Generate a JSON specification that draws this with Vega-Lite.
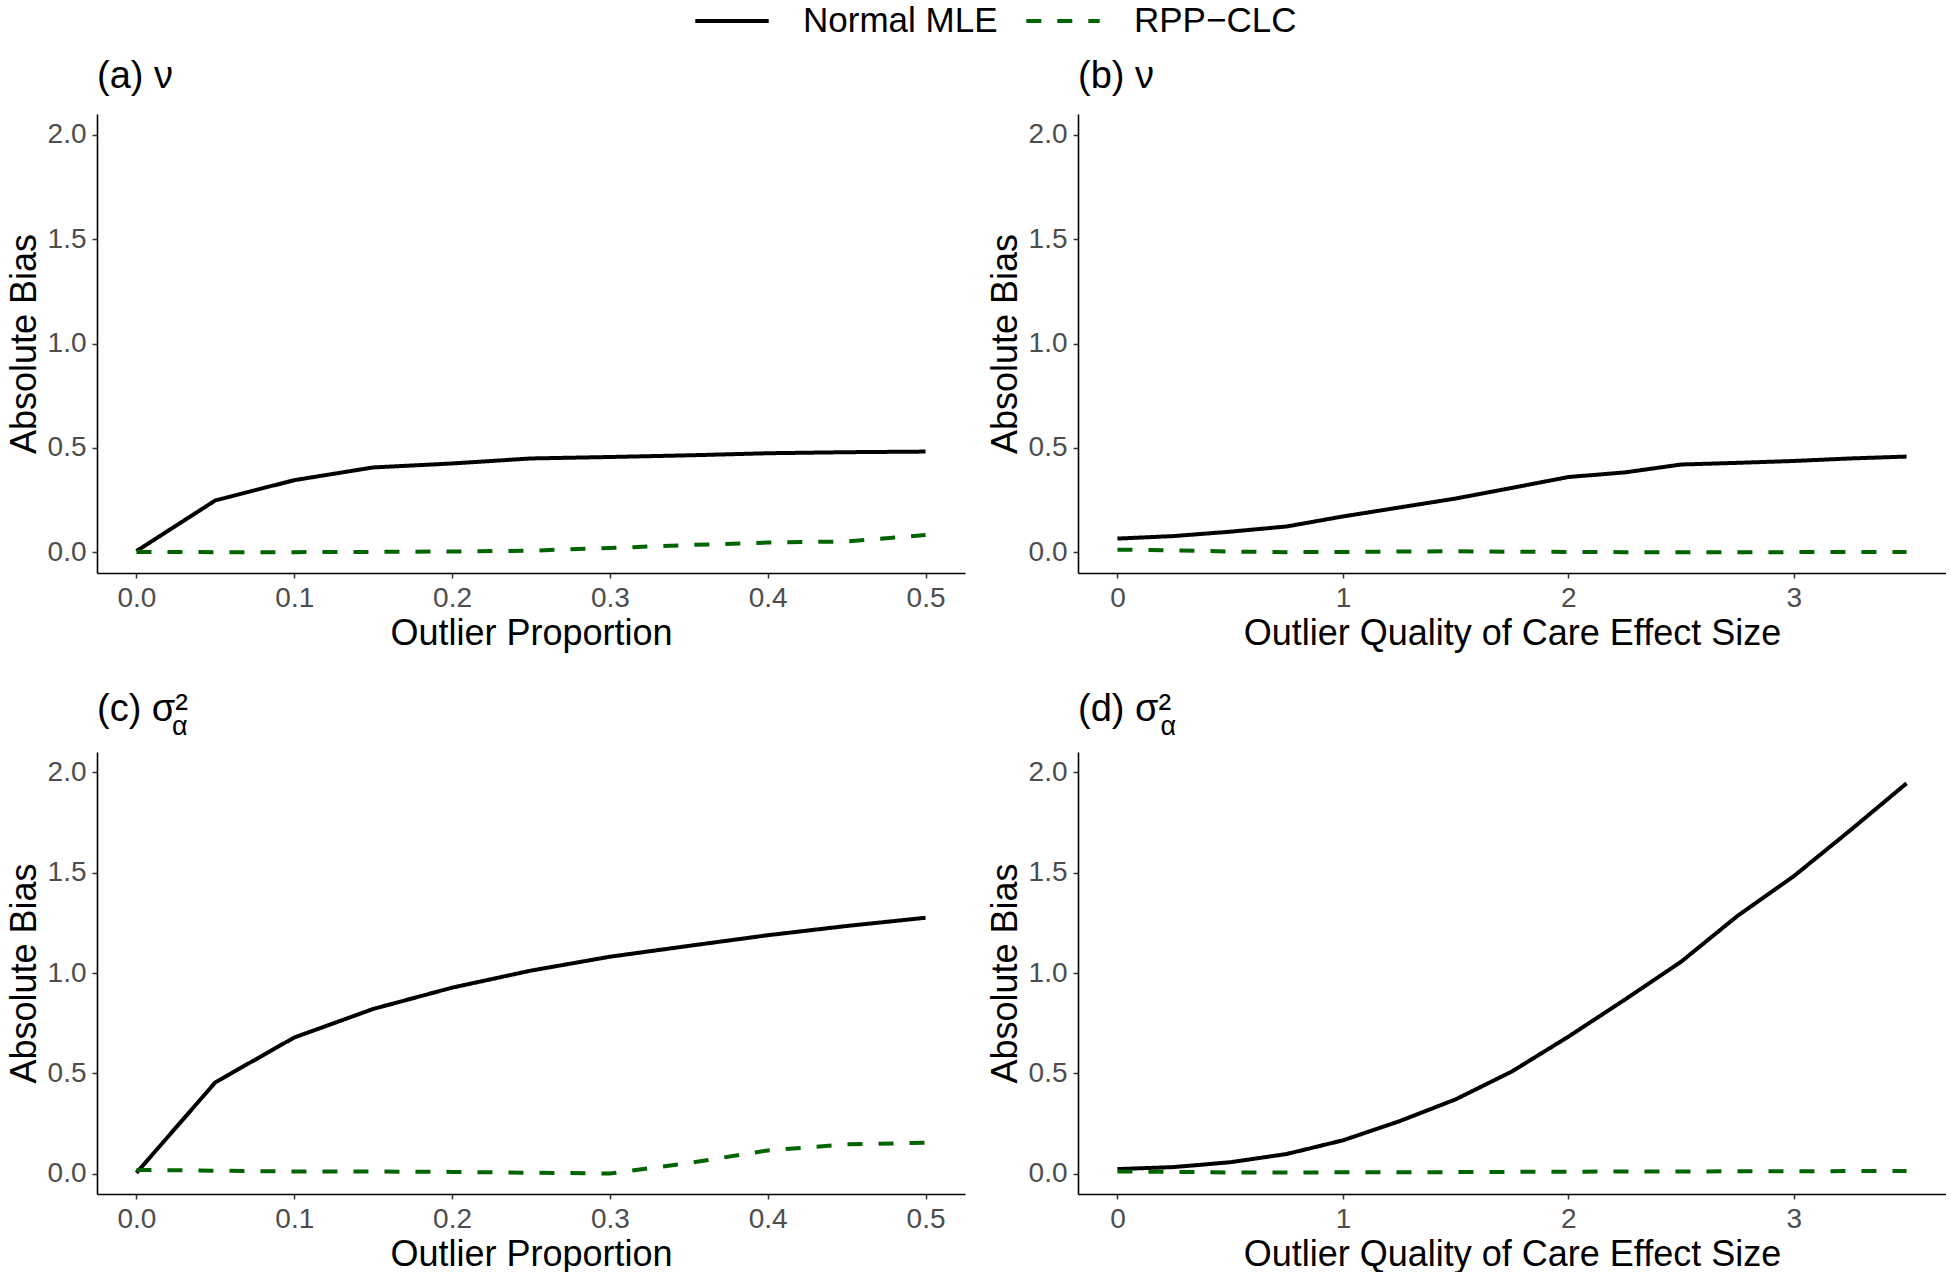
{
  "$schema": "https://vega.github.io/schema/vega-lite/v6.json",
  "background": "white",
  "padding": {"top": -18, "left": 6, "right": 0, "bottom": 0},
  "datasets": {
    "bias": [
      {"panel": "a", "x": 0.00, "method": "Normal MLE", "y": 0.005},
      {"panel": "a", "x": 0.05, "method": "Normal MLE", "y": 0.248},
      {"panel": "a", "x": 0.10, "method": "Normal MLE", "y": 0.345},
      {"panel": "a", "x": 0.15, "method": "Normal MLE", "y": 0.406},
      {"panel": "a", "x": 0.20, "method": "Normal MLE", "y": 0.425},
      {"panel": "a", "x": 0.25, "method": "Normal MLE", "y": 0.449},
      {"panel": "a", "x": 0.30, "method": "Normal MLE", "y": 0.456},
      {"panel": "a", "x": 0.35, "method": "Normal MLE", "y": 0.464},
      {"panel": "a", "x": 0.40, "method": "Normal MLE", "y": 0.474},
      {"panel": "a", "x": 0.45, "method": "Normal MLE", "y": 0.479},
      {"panel": "a", "x": 0.50, "method": "Normal MLE", "y": 0.482},
      {"panel": "a", "x": 0.00, "method": "RPP−CLC", "y": 0.001},
      {"panel": "a", "x": 0.05, "method": "RPP−CLC", "y": 0.000},
      {"panel": "a", "x": 0.10, "method": "RPP−CLC", "y": 0.000},
      {"panel": "a", "x": 0.15, "method": "RPP−CLC", "y": 0.001},
      {"panel": "a", "x": 0.20, "method": "RPP−CLC", "y": 0.003},
      {"panel": "a", "x": 0.25, "method": "RPP−CLC", "y": 0.007},
      {"panel": "a", "x": 0.30, "method": "RPP−CLC", "y": 0.020},
      {"panel": "a", "x": 0.35, "method": "RPP−CLC", "y": 0.034},
      {"panel": "a", "x": 0.40, "method": "RPP−CLC", "y": 0.046},
      {"panel": "a", "x": 0.45, "method": "RPP−CLC", "y": 0.051},
      {"panel": "a", "x": 0.50, "method": "RPP−CLC", "y": 0.082},
      {"panel": "b", "x": 0.00, "method": "Normal MLE", "y": 0.065},
      {"panel": "b", "x": 0.25, "method": "Normal MLE", "y": 0.077},
      {"panel": "b", "x": 0.50, "method": "Normal MLE", "y": 0.098},
      {"panel": "b", "x": 0.75, "method": "Normal MLE", "y": 0.123},
      {"panel": "b", "x": 1.00, "method": "Normal MLE", "y": 0.171},
      {"panel": "b", "x": 1.25, "method": "Normal MLE", "y": 0.214},
      {"panel": "b", "x": 1.50, "method": "Normal MLE", "y": 0.257},
      {"panel": "b", "x": 1.75, "method": "Normal MLE", "y": 0.308},
      {"panel": "b", "x": 2.00, "method": "Normal MLE", "y": 0.360},
      {"panel": "b", "x": 2.25, "method": "Normal MLE", "y": 0.382},
      {"panel": "b", "x": 2.50, "method": "Normal MLE", "y": 0.420},
      {"panel": "b", "x": 2.75, "method": "Normal MLE", "y": 0.428},
      {"panel": "b", "x": 3.00, "method": "Normal MLE", "y": 0.437},
      {"panel": "b", "x": 3.25, "method": "Normal MLE", "y": 0.449},
      {"panel": "b", "x": 3.50, "method": "Normal MLE", "y": 0.458},
      {"panel": "b", "x": 0.00, "method": "RPP−CLC", "y": 0.012},
      {"panel": "b", "x": 0.25, "method": "RPP−CLC", "y": 0.009},
      {"panel": "b", "x": 0.50, "method": "RPP−CLC", "y": 0.003},
      {"panel": "b", "x": 0.75, "method": "RPP−CLC", "y": 0.000},
      {"panel": "b", "x": 1.00, "method": "RPP−CLC", "y": 0.001},
      {"panel": "b", "x": 1.25, "method": "RPP−CLC", "y": 0.003},
      {"panel": "b", "x": 1.50, "method": "RPP−CLC", "y": 0.004},
      {"panel": "b", "x": 1.75, "method": "RPP−CLC", "y": 0.002},
      {"panel": "b", "x": 2.00, "method": "RPP−CLC", "y": 0.001},
      {"panel": "b", "x": 2.25, "method": "RPP−CLC", "y": 0.000},
      {"panel": "b", "x": 2.50, "method": "RPP−CLC", "y": 0.000},
      {"panel": "b", "x": 2.75, "method": "RPP−CLC", "y": 0.000},
      {"panel": "b", "x": 3.00, "method": "RPP−CLC", "y": 0.000},
      {"panel": "b", "x": 3.25, "method": "RPP−CLC", "y": 0.001},
      {"panel": "b", "x": 3.50, "method": "RPP−CLC", "y": 0.001},
      {"panel": "c", "x": 0.00, "method": "Normal MLE", "y": 0.005},
      {"panel": "c", "x": 0.05, "method": "Normal MLE", "y": 0.456},
      {"panel": "c", "x": 0.10, "method": "Normal MLE", "y": 0.679},
      {"panel": "c", "x": 0.15, "method": "Normal MLE", "y": 0.821},
      {"panel": "c", "x": 0.20, "method": "Normal MLE", "y": 0.927},
      {"panel": "c", "x": 0.25, "method": "Normal MLE", "y": 1.012},
      {"panel": "c", "x": 0.30, "method": "Normal MLE", "y": 1.081},
      {"panel": "c", "x": 0.35, "method": "Normal MLE", "y": 1.135},
      {"panel": "c", "x": 0.40, "method": "Normal MLE", "y": 1.188},
      {"panel": "c", "x": 0.45, "method": "Normal MLE", "y": 1.234},
      {"panel": "c", "x": 0.50, "method": "Normal MLE", "y": 1.275},
      {"panel": "c", "x": 0.00, "method": "RPP−CLC", "y": 0.020},
      {"panel": "c", "x": 0.05, "method": "RPP−CLC", "y": 0.016},
      {"panel": "c", "x": 0.10, "method": "RPP−CLC", "y": 0.012},
      {"panel": "c", "x": 0.15, "method": "RPP−CLC", "y": 0.012},
      {"panel": "c", "x": 0.20, "method": "RPP−CLC", "y": 0.010},
      {"panel": "c", "x": 0.25, "method": "RPP−CLC", "y": 0.006},
      {"panel": "c", "x": 0.30, "method": "RPP−CLC", "y": 0.002},
      {"panel": "c", "x": 0.35, "method": "RPP−CLC", "y": 0.054},
      {"panel": "c", "x": 0.40, "method": "RPP−CLC", "y": 0.117},
      {"panel": "c", "x": 0.45, "method": "RPP−CLC", "y": 0.147},
      {"panel": "c", "x": 0.50, "method": "RPP−CLC", "y": 0.155},
      {"panel": "d", "x": 0.00, "method": "Normal MLE", "y": 0.024},
      {"panel": "d", "x": 0.25, "method": "Normal MLE", "y": 0.034},
      {"panel": "d", "x": 0.50, "method": "Normal MLE", "y": 0.058},
      {"panel": "d", "x": 0.75, "method": "Normal MLE", "y": 0.099},
      {"panel": "d", "x": 1.00, "method": "Normal MLE", "y": 0.167},
      {"panel": "d", "x": 1.25, "method": "Normal MLE", "y": 0.262},
      {"panel": "d", "x": 1.50, "method": "Normal MLE", "y": 0.371},
      {"panel": "d", "x": 1.75, "method": "Normal MLE", "y": 0.510},
      {"panel": "d", "x": 2.00, "method": "Normal MLE", "y": 0.683},
      {"panel": "d", "x": 2.25, "method": "Normal MLE", "y": 0.867},
      {"panel": "d", "x": 2.50, "method": "Normal MLE", "y": 1.056},
      {"panel": "d", "x": 2.75, "method": "Normal MLE", "y": 1.284},
      {"panel": "d", "x": 3.00, "method": "Normal MLE", "y": 1.482},
      {"panel": "d", "x": 3.25, "method": "Normal MLE", "y": 1.710},
      {"panel": "d", "x": 3.50, "method": "Normal MLE", "y": 1.944},
      {"panel": "d", "x": 0.00, "method": "RPP−CLC", "y": 0.012},
      {"panel": "d", "x": 0.25, "method": "RPP−CLC", "y": 0.010},
      {"panel": "d", "x": 0.50, "method": "RPP−CLC", "y": 0.007},
      {"panel": "d", "x": 0.75, "method": "RPP−CLC", "y": 0.007},
      {"panel": "d", "x": 1.00, "method": "RPP−CLC", "y": 0.008},
      {"panel": "d", "x": 1.25, "method": "RPP−CLC", "y": 0.008},
      {"panel": "d", "x": 1.50, "method": "RPP−CLC", "y": 0.009},
      {"panel": "d", "x": 1.75, "method": "RPP−CLC", "y": 0.010},
      {"panel": "d", "x": 2.00, "method": "RPP−CLC", "y": 0.011},
      {"panel": "d", "x": 2.25, "method": "RPP−CLC", "y": 0.012},
      {"panel": "d", "x": 2.50, "method": "RPP−CLC", "y": 0.012},
      {"panel": "d", "x": 2.75, "method": "RPP−CLC", "y": 0.013},
      {"panel": "d", "x": 3.00, "method": "RPP−CLC", "y": 0.013},
      {"panel": "d", "x": 3.25, "method": "RPP−CLC", "y": 0.014},
      {"panel": "d", "x": 3.50, "method": "RPP−CLC", "y": 0.014}
    ]
  },
  "data": {"name": "bias"},
  "spacing": 40,
  "vconcat": [
    {
      "spacing": 22,
      "hconcat": [
        {
          "width": 868, "height": 459,
          "title": {"text": "(a) ν"},
          "transform": [{"filter": "datum.panel === 'a'"}],
          "mark": {"type": "line", "strokeWidth": 4},
          "encoding": {
            "x": {"field": "x", "type": "quantitative", "title": "Outlier Proportion",
                  "scale": {"domain": [-0.025, 0.525], "nice": false, "zero": false},
                  "axis": {"values": [0, 0.1, 0.2, 0.3, 0.4, 0.5], "format": ".1f"}},
            "y": {"field": "y", "type": "quantitative", "title": "Absolute Bias",
                  "scale": {"domain": [-0.1, 2.1], "nice": false, "zero": false},
                  "axis": {"values": [0, 0.5, 1, 1.5, 2], "format": ".1f"}},
            "color": {"field": "method", "type": "nominal", "title": null,
                      "scale": {"domain": ["Normal MLE", "RPP−CLC"], "range": ["#000000", "#006400"]}},
            "strokeDash": {"field": "method", "type": "nominal", "title": null,
                           "scale": {"domain": ["Normal MLE", "RPP−CLC"], "range": [[1, 0], [15, 16]]}},
            "detail": {"field": "method"}
          }
        },
        {
          "width": 868, "height": 459,
          "title": {"text": "(b) ν"},
          "transform": [{"filter": "datum.panel === 'b'"}],
          "mark": {"type": "line", "strokeWidth": 4},
          "encoding": {
            "x": {"field": "x", "type": "quantitative", "title": "Outlier Quality of Care Effect Size",
                  "scale": {"domain": [-0.175, 3.675], "nice": false, "zero": false},
                  "axis": {"values": [0, 1, 2, 3], "format": "d"}},
            "y": {"field": "y", "type": "quantitative", "title": "Absolute Bias",
                  "scale": {"domain": [-0.1, 2.1], "nice": false, "zero": false},
                  "axis": {"values": [0, 0.5, 1, 1.5, 2], "format": ".1f"}},
            "color": {"field": "method", "type": "nominal", "title": null,
                      "scale": {"domain": ["Normal MLE", "RPP−CLC"], "range": ["#000000", "#006400"]}},
            "strokeDash": {"field": "method", "type": "nominal", "title": null,
                           "scale": {"domain": ["Normal MLE", "RPP−CLC"], "range": [[1, 0], [15, 16]]}},
            "detail": {"field": "method"}
          }
        }
      ]
    },
    {
      "spacing": 22,
      "hconcat": [
        {
          "width": 868, "height": 442,
          "title": {"text": "(c) σ²", "subtitle": "\u200b\u00a0\u00a0\u00a0\u00a0\u00a0\u00a0\u00a0\u00a0\u00a0\u00a0α", "offset": 12},
          "transform": [{"filter": "datum.panel === 'c'"}],
          "mark": {"type": "line", "strokeWidth": 4},
          "encoding": {
            "x": {"field": "x", "type": "quantitative", "title": "Outlier Proportion",
                  "scale": {"domain": [-0.025, 0.525], "nice": false, "zero": false},
                  "axis": {"values": [0, 0.1, 0.2, 0.3, 0.4, 0.5], "format": ".1f"}},
            "y": {"field": "y", "type": "quantitative", "title": "Absolute Bias",
                  "scale": {"domain": [-0.1, 2.1], "nice": false, "zero": false},
                  "axis": {"values": [0, 0.5, 1, 1.5, 2], "format": ".1f"}},
            "color": {"field": "method", "type": "nominal", "title": null,
                      "scale": {"domain": ["Normal MLE", "RPP−CLC"], "range": ["#000000", "#006400"]}},
            "strokeDash": {"field": "method", "type": "nominal", "title": null,
                           "scale": {"domain": ["Normal MLE", "RPP−CLC"], "range": [[1, 0], [15, 16]]}},
            "detail": {"field": "method"}
          }
        },
        {
          "width": 868, "height": 442,
          "title": {"text": "(d) σ²", "subtitle": "\u200b\u00a0\u00a0\u00a0\u00a0\u00a0\u00a0\u00a0\u00a0\u00a0\u00a0\u00a0α", "offset": 12},
          "transform": [{"filter": "datum.panel === 'd'"}],
          "mark": {"type": "line", "strokeWidth": 4},
          "encoding": {
            "x": {"field": "x", "type": "quantitative", "title": "Outlier Quality of Care Effect Size",
                  "scale": {"domain": [-0.175, 3.675], "nice": false, "zero": false},
                  "axis": {"values": [0, 1, 2, 3], "format": "d"}},
            "y": {"field": "y", "type": "quantitative", "title": "Absolute Bias",
                  "scale": {"domain": [-0.1, 2.1], "nice": false, "zero": false},
                  "axis": {"values": [0, 0.5, 1, 1.5, 2], "format": ".1f"}},
            "color": {"field": "method", "type": "nominal", "title": null,
                      "scale": {"domain": ["Normal MLE", "RPP−CLC"], "range": ["#000000", "#006400"]}},
            "strokeDash": {"field": "method", "type": "nominal", "title": null,
                           "scale": {"domain": ["Normal MLE", "RPP−CLC"], "range": [[1, 0], [15, 16]]}},
            "detail": {"field": "method"}
          }
        }
      ]
    }
  ],
  "resolve": {"scale": {"color": "shared", "strokeDash": "shared"}},
  "config": {
    "font": "Liberation Sans",
    "view": {"stroke": null},
    "axis": {
      "grid": false,
      "domainColor": "#000000",
      "domainWidth": 1.6,
      "tickColor": "#333333",
      "tickWidth": 1.5,
      "tickSize": 5,
      "labelPadding": 6,
      "labelColor": "#4D4D4D",
      "labelFont": "Liberation Sans",
      "labelFontSize": 28,
      "titleFont": "Liberation Sans",
      "titleFontSize": 36,
      "titleFontWeight": "normal",
      "titleColor": "#000000",
      "titlePadding": 4
    },
    "title": {
      "font": "Liberation Sans",
      "fontSize": 38,
      "fontWeight": "normal",
      "color": "#000000",
      "anchor": "start",
      "frame": "group",
      "offset": 18,
      "subtitleFont": "Liberation Sans",
      "subtitleFontSize": 27,
      "subtitleColor": "#000000",
      "subtitlePadding": -15
    },
    "legend": {
      "orient": "none",
      "legendX": 596,
      "legendY": -132,
      "direction": "horizontal",
      "symbolType": "stroke",
      "symbolSize": 5388,
      "symbolStrokeWidth": 4,
      "labelFont": "Liberation Sans",
      "labelFontSize": 35,
      "labelColor": "#000000",
      "labelOffset": 32,
      "labelLimit": 500,
      "columnPadding": 20
    }
  }
}
